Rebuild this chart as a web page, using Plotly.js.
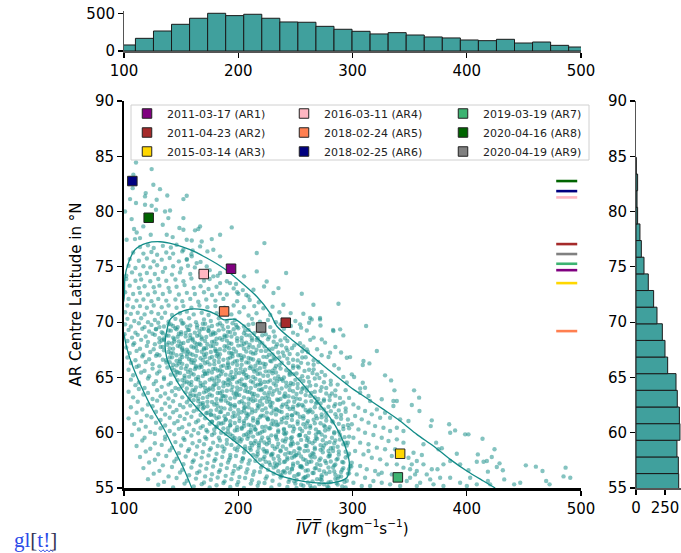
<!DOCTYPE html>
<html><head><meta charset="utf-8">
<script src="https://cdn.plot.ly/plotly-3.0.1.min.js"></script>
<style>html,body{margin:0;padding:0;background:#fff}#chart{width:681px;height:553px}</style>
</head><body><div id="chart"></div>
<script>
// ---- AR events ----
const arDates = ['2011-03-17','2011-04-23','2015-03-14','2016-03-11','2018-02-24','2018-02-25','2019-03-19','2020-04-16','2020-04-19'];
const arLabels = ['AR1','AR2','AR3','AR4','AR5','AR6','AR7','AR8','AR9'];
const arIVT = [193.7, 241.6, 341.7, 169.8, 187.6, 107.3, 339.7, 121.6, 220.0];
const arLat = [74.83, 69.95, 58.10, 74.35, 70.97, 82.76, 55.96, 79.44, 69.52];
const arColors = ['#800080','#a52a2a','#ffd700','#ffb6c1','#ff7f50','#000080','#3cb371','#006400','#808080'];
const arMarkLat = [74.70, 77.06, 73.53, 81.28, 69.19, 81.85, 75.28, 82.76, 76.16];
const markSpan = [478.3, 496.7];

// ---- marginal histograms ----
const ivtBinCenters = [102.1,117.9,133.7,149.5,165.3,181.1,196.9,212.7,228.5,244.3,260.1,275.9,291.7,307.5,323.3,339.1,354.9,370.7,386.5,402.3,418.1,433.9,449.7,465.5,481.3,497.1];
const ivtBinCounts = [80,168,265,354,434,500,469,487,434,385,381,327,288,261,226,243,212,186,173,146,137,155,106,119,75,53];
const latBinCenters = [55.55,57.06,58.56,60.07,61.57,63.08,64.59,66.09,67.60,69.10,70.60,72.11,73.61,75.12,76.63,78.13,79.63,81.14,82.64,84.15];
const latBinCounts = [368,365,353,379,374,356,345,273,250,227,181,152,106,69,46,34,14,9,14,2];

// ---- density contours ----
const outerContourIVT = [159.3,151.9,143.2,134.4,125.7,116.9,108.1,102.4,100.0,96.0,100.0,100.9,103.8,109.6,119.9,131.5,143.2,157.8,172.4,187.0,201.6,216.2,227.8,233.7,248.3,262.9,280.4,300.8,309.6,327.1,341.7,356.3,370.8,385.5,400.1,414.6,424.9];
const outerContourLat = [55.0,56.83,58.64,60.45,61.96,63.77,65.88,67.68,68.89,70.5,72.03,74.13,75.34,76.55,77.15,77.27,77.06,76.55,75.8,74.89,73.68,72.32,70.82,69.65,68.29,67.08,65.58,63.92,63.32,62.11,61.06,59.85,58.8,57.59,56.54,55.63,55.0];
const innerContourIVT = [187.0,181.2,169.5,157.7,147.5,140.3,137.4,135.9,137.4,143.2,151.9,163.6,178.2,192.8,207.4,219.1,233.7,248.3,265.8,283.3,295.0,297.3,295.0,289.1,280.4,268.7,254.1,239.5,225.0,210.3,197.2,187.0];
const innerContourLat = [70.22,70.67,71.12,71.18,70.82,70.22,69.2,67.98,66.78,65.27,63.77,62.26,60.75,59.55,58.34,57.13,56.23,55.78,55.48,55.48,55.93,57.13,58.34,59.85,61.36,62.87,64.67,66.18,67.68,69.2,70.25,70.22];

// ---- scatter cloud [IVT, latitude] ----
const cloudTop = [[110.5,84.44],[124.2,83.84],[108.2,83.33],[105.3,83.03],[107.6,82.12],[125.7,82.43],[131.5,82.03],[119,81.67],[118.4,81.37],[137.9,81.46],[154.9,81.43],[152,81.13],[105.3,81.13],[110.5,80.77],[128.6,81.07],[118.4,80.62],[124.2,80.53],[128,80.17],[135.9,80.01],[140.3,80.1],[100.9,80.01],[106.7,79.32],[138.8,79.41],[152,79.41],[133.9,78.81],[116.9,78.66],[108.8,78.42],[148.5,78.51],[166.6,78.66],[162.2,78.3],[165.1,78.42],[152,78.36],[194.3,78.57],[111.1,78.11],[123.4,77.9],[137.4,77.9],[142.6,77.69],[102.3,77.45],[109.6,77.51],[114,77.6],[154.9,77.45],[159.3,77.39],[168,77.3],[176.8,77.51],[222.9,77.15],[184.1,77.9],[216.2,76.25],[184.1,75.95],[178.2,76.55],[173,76.4],[166.6,76.85],[160.1,76.49],[152,76.55],[205.1,74.14],[216.2,74.59],[224.9,73.68],[241.9,74.44],[222.6,73.23],[230.8,72.63],[235.2,73.08],[255.6,72.57],[265.8,71.57],[287.7,71.66],[239.5,71.57],[245.9,70.82],[257,70.76],[262.9,70.37],[271.6,70.37],[213.3,72.93],[208.9,72.33],[200.1,72.57],[192.8,73.53],[184.1,73.53],[184.1,74.44],[178.2,74.14],[172.4,75.04],[163.6,75.34],[159.3,75.95],[154.9,75.64]];
const cloudMid = [[114,76.8],[121,76.95],[126,76.7],[134,76.9],[141,76.75],[146,77.0],
[108,76.3],[117,76.2],[124,76.35],[129,76.1],[137,76.3],[143,76.2],[151,76.4],[159,76.15],
[105,75.7],[113,75.55],[120,75.75],[126,75.5],[133,75.65],[140,75.8],[148,75.5],[155,75.7],[167,75.45],
[104,75.1],[110,74.9],[117,75.05],[123,74.95],[129,75.15],[136,74.9],[143,75.05],[150,74.85],[156,75.1],[162,74.95],[175,74.7],
[107,74.5],[114,74.3],[120,74.45],[127,74.35],[134,74.55],[142,74.3],[149,74.5],[158,74.35],[167,74.45],[182,74.2],[102,74.2],
[102,73.9],[110,73.75],[115,73.85],[123,73.7],[130,73.9],[137,73.75],[145,73.85],[152,73.7],[159,73.95],[170,73.75],[175,73.9],[190,73.7],[198,73.45],
[105,73.3],[113,73.1],[118,73.25],[126,73.15],[131,73.3],[139,73.1],[146,73.2],[153,73.35],[161,73.1],[167,73.25],[174,73.0],[181,73.2],[196,73.05],[204,72.9],
[101,72.7],[108,72.55],[114,72.65],[121,72.5],[127,72.7],[134,72.55],[140,72.75],[148,72.5],[155,72.65],[162,72.55],[170,72.7],[177,72.45],[184,72.6],[190,72.5],[199,72.7],[207,72.45],
[104,72.1],[111,71.95],[117,72.05],[124,71.9],[130,72.1],[137,71.95],[145,72.05],[151,71.9],[158,72.1],[165,71.85],[172,72.05],[180,71.95],[187,72.1],[199,71.9],[210,72.0],[218,71.8],
[103,71.5],[108,71.35],[114,71.45],[120,71.3],[126,71.5],[133,71.35],[139,71.5],[146,71.3],[152,71.45],[159,71.3],[166,71.5],[173,71.35],[180,71.45],[188,71.3],[196,71.5],[205,71.35],[214,71.45],[222,71.25],[230,71.4],
[101,70.9],[106,70.75],[112,70.85],[118,70.7],[124,70.9],[130,70.75],[136,70.85],[142,70.65],[149,70.8],[155,70.95],[161,70.7],[168,70.85],[174,70.65],[181,70.8],[194,70.7],[201,70.9],[209,70.6],[216,70.8],[228,70.65],[236,70.9]];
const cloudCore = [[103,70.3],[109,70.1],[115,70.35],[121,70.0],[127,70.2],[133,70.4],[139,70.05],[145,70.3],[150,70.15],[157,70.35],[163,70.0],[170,70.25],[176,70.1],[183,70.35],[190,70.05],[197,70.2],[212,70.3],[219,70.05],[226,70.2],[233,70.0],[250,70.1],[262,69.95],
[101,69.8],[106,69.6],[113,69.9],[118,69.55],[124,69.75],[130,69.95],[135,69.6],[141,69.8],[147,69.55],[152,69.9],[158,69.7],[164,69.5],[171,69.85],[177,69.65],[184,69.9],[191,69.55],[198,69.75],[205,69.6],[213,69.85],[228,69.55],[237,69.8],[246,69.65],[255,69.5],[272,69.7],
[104,69.3],[110,69.05],[116,69.4],[122,69.15],[128,69.35],[134,69.0],[139,69.25],[145,69.45],[150,69.1],[156,69.3],[162,69.05],[168,69.4],[174,69.2],[180,69.0],[187,69.35],[193,69.1],[200,69.45],[206,69.25],[214,69.0],[222,69.3],[231,69.15],[240,69.4],[248,69.05],[260,69.25],[283,69.3],
[100.5,68.9],[107,68.6],[112,68.85],[119,68.7],[125,68.95],[131,68.55],[137,68.8],[143,68.6],[148,68.95],[154,68.7],[160,68.5],[166,68.85],[172,68.65],[178,68.9],[184,68.55],[190,68.75],[197,68.95],[203,68.6],[210,68.8],[217,68.55],[224,68.9],[232,68.7],[241,68.55],[252,68.85],[266,68.6],[292,68.8],
[103,68.3],[109,68.1],[115,68.4],[121,68.2],[127,68.0],[133,68.35],[139,68.15],[144,68.45],[150,68.05],[156,68.3],[162,68.15],[168,68.45],[173,68.0],[179,68.25],[186,68.4],[192,68.1],[199,68.3],[205,68.05],[212,68.35],[219,68.2],[226,68.45],[234,68.0],[243,68.3],[254,68.1],[263,68.4],[276,68.15],
[102,67.7],[108,67.95],[114,67.6],[120,67.85],[126,67.55],[132,67.75],[138,67.95],[143,67.6],[149,67.8],[155,67.5],[161,67.7],[167,67.95],[172,67.65],[178,67.85],[184,67.55],[190,67.8],[196,67.6],[203,67.9],[209,67.7],[216,67.5],[223,67.8],[230,67.6],[238,67.9],[247,67.65],[257,67.8],[269,67.55],[285,67.75],
[105,67.2],[111,67.4],[117,67.05],[123,67.3],[129,67.1],[135,67.45],[141,67.2],[146,67.0],[152,67.35],[158,67.15],[164,67.4],[170,67.05],[176,67.3],[182,67.1],[188,67.45],[194,67.2],[200,67.0],[207,67.35],[213,67.15],[220,67.4],[227,67.05],[235,67.25],[243,67.45],[252,67.1],[261,67.3],[273,67.0],[290,67.25],
[103,66.8],[110,66.55],[116,66.9],[122,66.65],[128,66.95],[134,66.6],[140,66.8],[146,66.5],[151,66.85],[157,66.65],[163,66.95],[169,66.55],[175,66.75],[181,66.95],[187,66.6],[193,66.8],[199,66.5],[205,66.9],[211,66.7],[218,66.55],[225,66.85],[232,66.65],[240,66.95],[248,66.6],[256,66.8],[266,66.55],[279,66.85],
[106,66.3],[113,66.05],[119,66.4],[125,66.2],[131,66.0],[137,66.35],[143,66.15],[149,66.45],[155,66.05],[161,66.3],[167,66.1],[173,66.4],[179,66.2],[185,66.0],[191,66.3],[197,66.45],[203,66.15],[209,66.35],[215,66.05],[222,66.25],[229,66.45],[236,66.1],[244,66.3],[252,66.0],[261,66.25],[270,66.4],[284,66.1],
[104,65.7],[111,65.95],[118,65.6],[125,65.8],[131,65.55],[138,65.9],[144,65.65],[150,65.85],[156,65.5],[162,65.75],[168,65.95],[174,65.6],[180,65.8],[186,65.55],[192,65.9],[198,65.7],[204,65.5],[210,65.85],[216,65.65],[223,65.95],[230,65.6],[237,65.8],[245,65.55],[253,65.9],[262,65.7],[273,65.5],[288,65.8],
[108,65.2],[115,65.45],[122,65.1],[129,65.35],[135,65.0],[141,65.25],[147,65.45],[153,65.15],[159,65.35],[165,65.05],[171,65.3],[177,65.45],[183,65.1],[189,65.25],[195,65.0],[201,65.4],[207,65.2],[213,65.05],[219,65.35],[226,65.15],[233,65.45],[240,65.0],[248,65.3],[256,65.1],[265,65.4],[276,65.2],[292,65.05],
[106,64.8],[113,64.55],[121,64.9],[128,64.65],[135,64.85],[141,64.5],[147,64.75],[153,64.95],[159,64.6],[165,64.8],[171,64.55],[177,64.9],[183,64.7],[189,64.5],[195,64.85],[201,64.65],[207,64.95],[213,64.55],[219,64.75],[226,64.6],[232,64.9],[239,64.7],[246,64.5],[254,64.85],[262,64.6],[271,64.95],[281,64.7],[295,64.55],
[110,64.3],[118,64.05],[126,64.4],[133,64.15],[139,64.35],[145,64.05],[151,64.25],[157,64.45],[163,64.1],[169,64.3],[175,64.0],[181,64.4],[187,64.2],[193,64.45],[199,64.1],[205,64.3],[211,64.05],[217,64.35],[224,64.15],[231,64.45],[238,64.0],[245,64.25],[252,64.4],[260,64.1],[268,64.3],[277,64.05],[287,64.35],
[104,63.7],[113,63.95],[121,63.6],[129,63.85],[136,63.55],[142,63.75],[148,63.95],[154,63.65],[160,63.85],[166,63.5],[172,63.75],[178,63.9],[184,63.6],[190,63.8],[196,63.55],[202,63.95],[208,63.7],[214,63.5],[220,63.85],[227,63.65],[234,63.9],[241,63.55],[248,63.75],[256,63.95],[264,63.6],[272,63.8],[282,63.55],[294,63.85],
[108,63.2],[117,63.45],[125,63.05],[132,63.3],[139,63.1],[145,63.4],[151,63.2],[157,63.0],[163,63.35],[169,63.15],[175,63.45],[181,63.05],[187,63.3],[193,63.1],[199,63.4],[205,63.2],[211,63.0],[217,63.35],[224,63.15],[230,63.45],[237,63.05],[244,63.3],[251,63.1],[259,63.4],[267,63.2],[275,63.0],[285,63.35],[297,63.15],
[112,62.8],[121,62.55],[129,62.9],[136,62.65],[143,62.85],[149,62.5],[155,62.75],[161,62.95],[167,62.6],[173,62.8],[179,62.55],[185,62.9],[191,62.7],[197,62.5],[203,62.85],[209,62.65],[215,62.95],[221,62.55],[228,62.75],[235,62.95],[242,62.6],[249,62.8],[256,62.5],[264,62.85],[272,62.65],[280,62.95],[289,62.6],
[106,62.3],[116,62.1],[125,62.4],[133,62.15],[140,62.35],[146,62.05],[152,62.3],[158,62.45],[164,62.1],[170,62.3],[176,62.0],[182,62.4],[188,62.2],[194,62.45],[200,62.05],[206,62.3],[212,62.1],[218,62.4],[224,62.2],[231,62.0],[238,62.35],[245,62.15],[252,62.45],[259,62.05],[267,62.3],[275,62.1],[284,62.4],[294,62.2],
[111,61.8],[120,61.55],[128,61.9],[136,61.65],[143,61.85],[149,61.5],[155,61.75],[161,61.95],[167,61.6],[173,61.8],[179,61.55],[185,61.9],[191,61.7],[197,61.5],[203,61.85],[209,61.65],[215,61.95],[222,61.55],[229,61.75],[236,61.95],[243,61.6],[250,61.8],[257,61.5],[265,61.85],[273,61.65],[281,61.95],[290,61.6],
[104,61.3],[115,61.05],[124,61.4],[132,61.15],[140,61.35],[147,61.05],[153,61.25],[159,61.45],[165,61.1],[171,61.3],[177,61.0],[183,61.4],[189,61.2],[195,61.45],[201,61.05],[207,61.3],[213,61.1],[219,61.4],[226,61.2],[233,61.0],[240,61.35],[247,61.15],[254,61.45],[261,61.05],[269,61.3],[277,61.1],[286,61.4],[296,61.2],
[109,60.8],[119,60.55],[128,60.9],[136,60.65],[144,60.85],[151,60.5],[157,60.75],[163,60.95],[169,60.6],[175,60.8],[181,60.55],[187,60.9],[193,60.7],[199,60.5],[205,60.85],[211,60.65],[217,60.95],[224,60.55],[231,60.75],[238,60.95],[245,60.6],[252,60.8],[259,60.5],[267,60.85],[275,60.65],[283,60.95],[292,60.6],
[113,60.3],[123,60.05],[132,60.4],[140,60.15],[148,60.35],[155,60.05],[161,60.25],[167,60.45],[173,60.1],[179,60.3],[185,60.0],[191,60.4],[197,60.2],[203,60.45],[209,60.05],[215,60.3],[221,60.1],[228,60.4],[235,60.2],[242,60.0],[249,60.35],[256,60.15],[263,60.45],[271,60.05],[279,60.3],[288,60.1],[297,60.4],
[107,59.8],[118,59.55],[127,59.9],[136,59.65],[144,59.85],[152,59.5],[159,59.75],[165,59.95],[171,59.6],[177,59.8],[183,59.55],[189,59.9],[195,59.7],[201,59.5],[207,59.85],[213,59.65],[219,59.95],[226,59.55],[233,59.75],[240,59.95],[247,59.6],[254,59.8],[261,59.5],[268,59.85],[276,59.65],[284,59.95],[293,59.6],
[116,59.3],[127,59.05],[136,59.4],[145,59.15],[153,59.35],[160,59.05],[166,59.25],[172,59.45],[178,59.1],[184,59.3],[190,59.0],[196,59.4],[202,59.2],[208,59.45],[214,59.05],[220,59.3],[227,59.1],[234,59.4],[241,59.2],[248,59.0],[255,59.35],[262,59.15],[269,59.45],[277,59.05],[285,59.3],[294,59.1],
[111,58.8],[123,58.55],[133,58.9],[142,58.65],[150,58.85],[157,58.5],[164,58.75],[170,58.95],[176,58.6],[182,58.8],[188,58.55],[194,58.9],[200,58.7],[206,58.5],[212,58.85],[218,58.65],[225,58.95],[232,58.55],[239,58.75],[246,58.95],[253,58.6],[260,58.8],[267,58.5],[275,58.85],[283,58.65],[292,58.95],
[119,58.3],[130,58.05],[140,58.4],[148,58.15],[156,58.35],[163,58.05],[169,58.25],[175,58.45],[181,58.1],[187,58.3],[193,58.0],[199,58.4],[205,58.2],[211,58.45],[217,58.05],[223,58.3],[230,58.1],[237,58.4],[244,58.2],[251,58.0],[258,58.35],[265,58.15],[272,58.45],[280,58.05],[288,58.3],[297,58.1],
[114,57.8],[127,57.55],[137,57.9],[146,57.65],[154,57.85],[161,57.5],[168,57.75],[174,57.95],[180,57.6],[186,57.8],[192,57.55],[198,57.9],[204,57.7],[210,57.5],[216,57.85],[222,57.65],[229,57.95],[236,57.55],[243,57.75],[250,57.95],[257,57.6],[264,57.8],[271,57.5],[279,57.85],[287,57.65],[296,57.95],
[122,57.3],[134,57.05],[144,57.4],[152,57.15],[160,57.35],[167,57.05],[173,57.25],[179,57.45],[185,57.1],[191,57.3],[197,57.0],[203,57.4],[209,57.2],[215,57.45],[221,57.05],[227,57.3],[234,57.1],[241,57.4],[248,57.2],[255,57.0],[262,57.35],[269,57.15],[276,57.45],[284,57.05],[292,57.3],
[117,56.8],[131,56.55],[142,56.9],[151,56.65],[159,56.85],[166,56.5],[172,56.75],[178,56.95],[184,56.6],[190,56.8],[196,56.55],[202,56.9],[208,56.7],[214,56.5],[220,56.85],[226,56.65],[233,56.95],[240,56.55],[247,56.75],[254,56.95],[261,56.6],[268,56.8],[275,56.5],[283,56.85],[291,56.65],[299,56.95],
[126,56.3],[139,56.05],[149,56.4],[157,56.15],[164,56.35],[171,56.05],[177,56.25],[183,56.45],[189,56.1],[195,56.3],[201,56.0],[207,56.4],[213,56.2],[219,56.45],[225,56.05],[231,56.3],[238,56.1],[245,56.4],[252,56.2],[259,56.0],[266,56.35],[273,56.15],[280,56.45],[288,56.05],[296,56.3],
[121,55.8],[135,55.55],[146,55.9],[155,55.65],[163,55.85],[170,55.5],[176,55.75],[182,55.95],[188,55.6],[194,55.8],[200,55.55],[206,55.9],[212,55.7],[218,55.5],[224,55.85],[230,55.65],[237,55.95],[244,55.55],[251,55.75],[258,55.95],[265,55.6],[272,55.8],[279,55.5],[287,55.85],[295,55.65],
[130,55.3],[143,55.05],[153,55.4],[161,55.15],[168,55.35],[175,55.05],[181,55.25],[187,55.45],[193,55.1],[199,55.3],[205,55.0],[211,55.4],[217,55.2],[223,55.45],[229,55.05],[236,55.3],[243,55.1],[250,55.4],[257,55.2],[264,55.0],[271,55.35],[278,55.15],[286,55.45],[294,55.05]];
const cloudDense = [[163,65.9],[171,65.35],[178,64.2],[186,63.35],[192,64.75],[199,63.75],[205,62.25],[212,63.55],[219,62.85],[226,61.25],[233,62.15],[240,60.35],[247,61.55],[253,59.75],[260,60.85],[267,59.25],[274,58.6],[281,57.4],[169,62.7],[176,61.65],[183,60.85],[190,59.35],[197,58.55],[204,57.65],[211,60.25],[218,59.05],[225,58.35],[232,57.25],[239,56.45],[246,58.15],[153,64.55],[158,63.3],[165,62.35],[172,60.25],[179,59.95],[186,58.75],[193,57.75],[200,56.75],[207,61.75],[214,60.55],[221,63.95],[228,62.45],[235,60.75],[242,59.45],[249,57.85],[256,56.85],[263,57.95],[270,60.05],[277,61.45],[284,59.05],[148,66.25],[155,67.15],[162,66.55],[170,67.65],[177,66.85],[184,65.65],[191,66.15],[198,65.35],[206,64.35],[213,65.75],[220,64.45],[227,63.05],[234,64.65],[241,63.25],[248,62.35],[255,63.65],[262,61.95],[269,62.75],[276,60.55],[283,58.35],[290,56.45],[144,68.25],[151,67.65],[158,68.85],[166,68.05],[174,69.25],[181,67.35],[188,68.65],[195,67.15],[203,66.75],[210,67.95],[217,66.35],[224,65.55],[231,66.75],[238,64.85],[245,65.35],[252,64.05]];
const cloudInner = [[131,69.55],[139,69.82],[143,69.65],[151,69.88],[155,69.59],[164,69.73],[169,69.85],[174,69.52],[182,69.78],[186,69.68],[195,69.9],[199,69.57],[209,69.76],
[128,69.38],[133,69.09],[141,69.23],[146,69.35],[154,69.02],[157,69.28],[166,69.18],[170,69.4],[178,69.07],[183,69.26],[191,69.12],[196,69.36],[205,69.0],[209,69.3],[219,69.2],
[127,68.85],[135,68.52],[139,68.78],[147,68.68],[150,68.9],[158,68.57],[164,68.76],[168,68.62],[176,68.86],[181,68.5],[188,68.8],[194,68.7],[199,68.54],[207,68.83],[212,68.55],[221,68.82],[227,68.65],
[131,68.18],[135,68.4],[142,68.07],[148,68.26],[152,68.12],[160,68.36],[164,68.0],[171,68.3],[177,68.2],[181,68.04],[190,68.33],[194,68.05],[203,68.32],[207,68.15],[216,68.38],[221,68.09],[231,68.23],[237,68.35],
[134,67.76],[140,67.62],[147,67.86],[151,67.5],[159,67.8],[163,67.7],[170,67.54],[176,67.83],[180,67.55],[188,67.82],[192,67.65],[200,67.88],[205,67.59],[213,67.73],[218,67.85],[227,67.52],[233,67.78],[242,67.68],[249,67.9],
[131,67.0],[139,67.3],[143,67.2],[150,67.04],[156,67.33],[160,67.05],[168,67.32],[172,67.15],[180,67.38],[184,67.09],[192,67.23],[198,67.35],[202,67.02],[211,67.28],[215,67.18],[224,67.4],[230,67.07],[239,67.26],[245,67.12],[256,67.36],
[137,66.55],[142,66.82],[149,66.65],[155,66.88],[159,66.59],[167,66.73],[171,66.85],[179,66.52],[183,66.78],[191,66.68],[195,66.9],[203,66.57],[209,66.76],[213,66.62],[222,66.86],[228,66.5],[236,66.8],[243,66.7],[252,66.54],[259,66.83],
[140,66.38],[146,66.09],[151,66.23],[159,66.35],[163,66.02],[171,66.28],[175,66.18],[183,66.4],[187,66.07],[195,66.26],[199,66.12],[207,66.36],[211,66.0],[219,66.3],[224,66.2],[233,66.04],[238,66.33],[248,66.05],[255,66.32],[266,66.15],
[142,65.85],[146,65.52],[154,65.78],[158,65.68],[166,65.9],[170,65.57],[178,65.76],[182,65.62],[190,65.86],[194,65.5],[202,65.8],[206,65.7],[214,65.54],[219,65.83],[227,65.55],[232,65.82],[242,65.65],[248,65.88],[258,65.59],[266,65.73],
[145,65.18],[149,65.4],[157,65.07],[161,65.26],[169,65.12],[173,65.36],[181,65.0],[185,65.3],[193,65.2],[197,65.04],[205,65.33],[209,65.05],[217,65.32],[222,65.15],[230,65.38],[235,65.09],[245,65.23],[251,65.35],[261,65.02],[269,65.28],
[151,64.76],[155,64.62],[163,64.86],[167,64.5],[175,64.8],[179,64.7],[187,64.54],[191,64.83],[199,64.55],[203,64.82],[211,64.65],[215,64.88],[223,64.59],[228,64.73],[236,64.85],[242,64.52],[250,64.78],[257,64.68],[267,64.9],[275,64.57],
[155,64.0],[159,64.3],[167,64.2],[171,64.04],[179,64.33],[183,64.05],[191,64.32],[195,64.15],[203,64.38],[207,64.09],[215,64.23],[219,64.35],[228,64.02],[233,64.28],[242,64.18],[248,64.4],[257,64.07],[263,64.26],[273,64.12],[281,64.36],
[158,63.55],[162,63.82],[170,63.65],[174,63.88],[182,63.59],[186,63.73],[194,63.85],[198,63.52],[206,63.78],[210,63.68],[218,63.9],[223,63.57],[231,63.76],[236,63.62],[245,63.86],[251,63.5],[260,63.8],[267,63.7],[277,63.54],[285,63.83],
[161,63.38],[165,63.09],[173,63.23],[177,63.35],[185,63.02],[189,63.28],[197,63.18],[201,63.4],[209,63.07],[213,63.26],[221,63.12],[226,63.36],[234,63.0],[240,63.3],[248,63.2],[254,63.04],[263,63.33],[270,63.05],[280,63.32],[289,63.15],
[165,62.85],[169,62.52],[177,62.78],[181,62.68],[189,62.9],[193,62.57],[201,62.76],[205,62.62],[213,62.86],[217,62.5],[225,62.8],[230,62.7],[239,62.54],[244,62.83],[253,62.55],[259,62.82],[268,62.65],[275,62.88],[285,62.59],[292,62.73],
[169,62.18],[173,62.4],[181,62.07],[185,62.26],[193,62.12],[197,62.36],[205,62.0],[209,62.3],[217,62.2],[221,62.04],[229,62.33],[234,62.05],[243,62.32],[248,62.15],[257,62.38],[263,62.09],[272,62.23],[279,62.35],[288,62.02],
[172,61.76],[176,61.62],[184,61.86],[188,61.5],[196,61.8],[200,61.7],[208,61.54],[212,61.83],[220,61.55],[225,61.82],[233,61.65],[238,61.88],[247,61.59],[252,61.73],[261,61.85],[268,61.52],[277,61.78],[285,61.68],[294,61.9],
[177,61.0],[181,61.3],[189,61.2],[193,61.04],[201,61.33],[205,61.05],[213,61.32],[217,61.15],[225,61.38],[230,61.09],[238,61.23],[243,61.35],[252,61.02],[257,61.28],[266,61.18],[273,61.4],[282,61.07],[290,61.26],
[181,60.55],[185,60.82],[193,60.65],[197,60.88],[205,60.59],[209,60.73],[217,60.85],[221,60.52],[229,60.78],[234,60.68],[242,60.9],[248,60.57],[257,60.76],[263,60.62],[272,60.86],[280,60.5],[288,60.8],[296,60.7],
[187,60.38],[191,60.09],[199,60.23],[203,60.35],[211,60.02],[215,60.28],[223,60.18],[227,60.4],[235,60.07],[240,60.26],[248,60.12],[254,60.36],[262,60.0],[268,60.3],[276,60.2],[284,60.04],[292,60.33],
[193,59.85],[197,59.52],[205,59.78],[209,59.68],[217,59.9],[221,59.57],[229,59.76],[233,59.62],[241,59.86],[246,59.5],[254,59.8],[259,59.7],[268,59.54],[273,59.83],[282,59.55],[289,59.82],[297,59.65],
[199,59.18],[203,59.4],[211,59.07],[215,59.26],[223,59.12],[227,59.36],[235,59.0],[239,59.3],[247,59.2],[252,59.04],[260,59.33],[265,59.05],[274,59.32],[280,59.15],[289,59.38],[296,59.09],
[206,58.76],[210,58.62],[218,58.86],[222,58.5],[230,58.8],[234,58.7],[242,58.54],[246,58.83],[254,58.55],[259,58.82],[267,58.65],[272,58.88],[281,58.59],[287,58.73],[295,58.85],
[213,58.0],[217,58.3],[225,58.2],[229,58.04],[237,58.33],[241,58.05],[249,58.32],[253,58.15],[261,58.38],[266,58.09],[274,58.23],[279,58.35],[288,58.02],[294,58.28],
[219,57.55],[223,57.82],[231,57.65],[235,57.88],[243,57.59],[247,57.73],[255,57.85],[259,57.52],[267,57.78],[272,57.68],[280,57.9],[286,57.57],[294,57.76],
[224,57.38],[228,57.09],[236,57.23],[240,57.35],[248,57.02],[252,57.28],[260,57.18],[264,57.4],[272,57.07],[277,57.26],[285,57.12],[291,57.36],[298,57.0],
[231,56.85],[235,56.52],[243,56.78],[247,56.68],[255,56.9],[259,56.57],[267,56.76],[271,56.62],[279,56.86],[284,56.5],[292,56.8],[297,56.7],
[237,56.18],[241,56.4],[249,56.07],[253,56.26],[261,56.12],[265,56.36],[273,56.0],[277,56.3],[285,56.2],[290,56.04],[297,56.33],
[245,55.76],[249,55.62],[257,55.86],[261,55.5],[269,55.8],[273,55.7],[281,55.54],[285,55.83],[293,55.55],
[251,55.0],[255,55.3],[263,55.2],[267,55.04],[275,55.33],[279,55.05],[287,55.32],[291,55.15]];
const cloudRight = [[311.9,69.65],[321.3,67.39],[309.6,66.48],[309,66.12],[314.8,66.27],[297.9,66.84],[299.4,65.28],[301.4,65.04],[328.5,65.19],[333.8,64.73],[309,64.52],[306.7,64.01],[311,64.07],[336.7,63.83],[353.9,63.83],[358.3,63.17],[335.8,62.87],[338.8,62.87],[351.9,62.5],[358.6,61.96],[369.4,61.12],[368.5,60.6],[384.6,60.76],[389.8,60.21],[385.5,60.0],[398.6,59.85],[401.5,59.85],[413.8,59.46],[373.2,59.1],[378.2,58.59],[375.3,58.5],[362.1,58.95],[424.3,58.5],[409.7,58.04],[414.7,57.38],[417.6,57.44],[421.9,57.8],[428.7,57.23],[426.3,56.9],[408.8,57.38],[451.7,57.05],[460.5,56.93],[466.3,56.54],[486.5,56.84],[484.7,56.05],[490.6,55.93],[469.5,55.63],[472.5,55.33],[446.8,55.48],[441.5,55.33],[431.6,56.6],[432.8,55.78],[418.5,56.48],[418.5,55.63],[420.5,55.33],[400.1,55.18],[391.3,58.1],[385.5,57.44],[394.2,57.14],[379.6,57.14],[374.4,56.69],[401.5,56.6],[403,55.93],[385.5,55.93],[376.7,55.93],[370.9,55.33],[394.2,55.48],[408.8,55.33],[379.6,55.18],[365,56.23],[368,55.78],[362.1,57.14],[369.4,56.69],[354.8,56.23],[359.2,55.48],[353.4,58.19],[349,57.74],[360.7,57.98],[356.3,57.44],[350.4,56.69],[347.5,55.63],[356.3,55.18],[338.8,60.45],[344.6,60.15],[349,61.06],[341.7,61.21],[332.9,61.36],[328.5,61.81],[321.3,62.11],[335.8,62.41],[325.6,63.02],[315.4,62.87],[314,63.32],[306.7,63.62],[300.8,62.56],[305.2,62.26],[311,61.96],[316.9,61.66],[324.2,61.36],[302.3,61.51],[308.1,61.21],[314,60.91],[319.8,60.6],[327.1,60.45],[332.9,60.15],[299.4,60.76],[305.2,60.3],[311,60.0],[318.3,59.79],[325.6,59.55],[331.5,59.25],[338.8,59.4],[344.6,59.1],[300.8,59.55],[306.7,59.1],[314,58.95],[321.3,58.65],[328.5,58.5],[334.4,57.89],[302.3,58.34],[309.6,58.04],[316.9,57.74],[324.2,57.59],[330,57.14],[338.8,57.14],[344.6,56.84],[299.4,57.29],[306.7,56.99],[312.5,56.69],[319.8,56.54],[325.6,56.38],[334.4,56.23],[303.7,56.23],[311,55.93],[318.3,55.63],[325.6,55.48],[332.9,55.33],[341.7,55.18],[300.8,55.48],[308.1,55.18],[315.4,55.18],[322.7,56.23],[314,58.34],[337.3,58.5],[351.9,57.14],[356.3,56.54],[341.7,56.08],[350.4,55.93],[254.1,69.8],[271.6,70.25],[264.3,70.25],[283.3,69.2],[289.2,69.35],[273.1,68.44],[280.4,67.24],[295,66.78],[260,67.54]];

const cloud = [].concat(cloudTop, cloudMid, cloudCore, cloudDense, cloudInner, cloudRight);
const teal = '#1f918c';
const barFill = '#40a09d';

const traces = [];
traces.push({type:'scatter', mode:'markers', x: cloud.map(p=>p[0]), y: cloud.map(p=>p[1]),
  marker:{size:4.4, color:teal, opacity:0.55}, showlegend:false, hoverinfo:'skip'});
traces.push({type:'scatter', mode:'lines', x: outerContourIVT, y: outerContourLat, line:{color:'#138c88', width:1.3, shape:'spline', smoothing:0.8}, showlegend:false, hoverinfo:'skip'});
traces.push({type:'scatter', mode:'lines', x: innerContourIVT, y: innerContourLat, line:{color:'#138c88', width:1.3, shape:'spline', smoothing:0.8}, showlegend:false, hoverinfo:'skip'});

const legendIds = ['legend','legend2','legend3'];
for (let i = 0; i < arLabels.length; i++) {
  traces.push({type:'scatter', mode:'markers', x:[arIVT[i]], y:[arLat[i]],
    name: arDates[i] + ' (' + arLabels[i] + ')', legend: legendIds[Math.floor(i/3)],
    marker:{symbol:'square', size:9.5, color:arColors[i], line:{color:'#222', width:1}}});
}
for (let i = 0; i < arLabels.length; i++) {
  traces.push({type:'scatter', mode:'lines', x: markSpan, y:[arMarkLat[i], arMarkLat[i]],
    line:{color:arColors[i], width:2.6}, showlegend:false, hoverinfo:'skip'});
}
traces.push({type:'bar', x: ivtBinCenters, y: ivtBinCounts, width: 15.8, xaxis:'x2', yaxis:'y2',
  marker:{color:barFill, line:{color:'#1a1a1a', width:1}}, showlegend:false, hoverinfo:'skip'});
traces.push({type:'bar', orientation:'h', y: latBinCenters, x: latBinCounts, width: 1.505, xaxis:'x3', yaxis:'y3',
  marker:{color:barFill, line:{color:'#1a1a1a', width:1}}, showlegend:false, hoverinfo:'skip'});

const W = 681, H = 553;
const px = v => v / W, py = v => (H - v) / H;
const tickFont = {family:'DejaVu Sans', size:15, color:'#000'};
const baseAx = {showgrid:false, zeroline:false, ticks:'outside', ticklen:5, tickwidth:1.1, tickcolor:'#000', showline:true, tickfont:tickFont, automargin:false};
const legendBase = {orientation:'v', yanchor:'top', xanchor:'left', traceorder:'normal',
  font:{family:'DejaVu Sans', size:11, color:'#222'}, borderwidth:0, bgcolor:'rgba(0,0,0,0)'};

// small wavy underline under "t!" in the corner note (decoration)
let wave = '';
for (let k = 0; k <= 7; k++) {
  const xx = px(39 + k * 2), yy = py(k % 2 === 0 ? 549.8 : 551.8);
  wave += (k === 0 ? 'M ' : ' L ') + xx.toFixed(5) + ',' + yy.toFixed(5);
}

const layout = {
  width: W, height: H, margin:{l:0, r:0, t:0, b:0},
  paper_bgcolor:'#fff', plot_bgcolor:'rgba(0,0,0,0)',
  font:{family:'DejaVu Sans', size:15, color:'#000'},
  bargap:0,
  legend: Object.assign({}, legendBase, {x:px(127), y:py(99)}),
  legend2: Object.assign({}, legendBase, {x:px(284), y:py(99)}),
  legend3: Object.assign({}, legendBase, {x:px(443), y:py(99)}),
  shapes:[
    {type:'rect', xref:'paper', yref:'paper', x0:px(131), x1:px(589), y0:py(160), y1:py(105),
     line:{color:'#d0d0d0', width:1}, fillcolor:'rgba(255,255,255,0.85)', layer:'above'},
    {type:'path', xref:'paper', yref:'paper', path: wave, line:{color:'#2c4be8', width:1}, layer:'above'}
  ],
  xaxis: Object.assign({}, baseAx, {domain:[px(124), px(581)], anchor:'y', range:[100,500], tickvals:[100,200,300,400,500],
    linecolor:'#000', linewidth:2.5,
    title:{text:'<i>I\u0305V\u0305T\u0305</i> (kgm<sup>\u22121</sup>s<sup>\u22121</sup>)', font:{family:'DejaVu Sans', size:15}, standoff:6}}),
  yaxis: Object.assign({}, baseAx, {domain:[py(488), py(101)], anchor:'x', range:[55,90], tickvals:[55,60,65,70,75,80,85,90],
    linecolor:'#000', linewidth:2,
    title:{text:'AR Centre Latitude in \u00b0N', font:{family:'DejaVu Sans', size:15}, standoff:10}}),
  xaxis2: Object.assign({}, baseAx, {domain:[px(124), px(581)], anchor:'y2', range:[100,500], tickvals:[100,200,300,400,500],
    linecolor:'#555', linewidth:1.5}),
  yaxis2: Object.assign({}, baseAx, {domain:[py(51), py(11.4)], anchor:'x2', range:[0,525], tickvals:[0,500],
    linecolor:'#555', linewidth:1}),
  xaxis3: Object.assign({}, baseAx, {domain:[px(636), 1], anchor:'y3', range:[0,388], tickvals:[0,250],
    linecolor:'#555', linewidth:1.5}),
  yaxis3: Object.assign({}, baseAx, {domain:[py(488), py(101)], anchor:'x3', range:[55,90], tickvals:[55,60,65,70,75,80,85,90],
    linecolor:'#555', linewidth:1}),
  annotations:[
    {xref:'paper', yref:'paper', x:px(12), y:py(540), xanchor:'left', yanchor:'middle', showarrow:false,
     text:'<span style="color:#2c4be8">gl</span><span style="color:#333355">[</span><span style="color:#2c4be8">t!</span><span style="color:#333355">]</span>',
     font:{family:'Liberation Serif', size:21}}
  ]
};

Plotly.newPlot('chart', traces, layout, {displayModeBar:false, staticPlot:true});
</script>
</body></html>
